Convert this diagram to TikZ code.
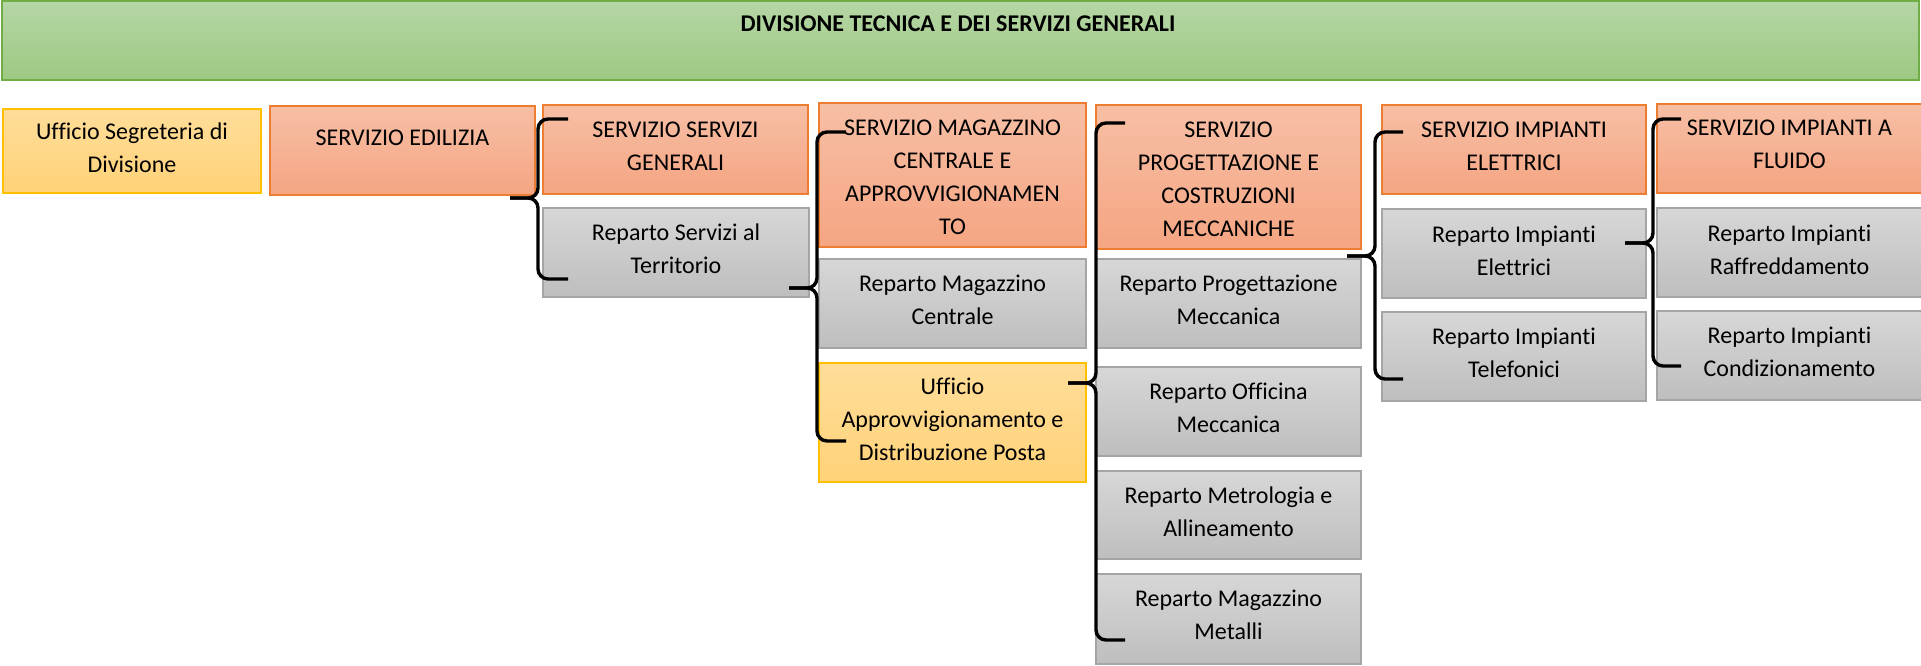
\documentclass[tikz,border=0pt]{standalone}
\usepackage{fontspec}
\setmainfont{Carlito}[Ligatures=NoCommon]
\definecolor{gTop}{RGB}{182,214,166}
\definecolor{gBot}{RGB}{157,201,130}
\definecolor{gLine}{RGB}{112,173,71}
\definecolor{oTop}{RGB}{247,191,165}
\definecolor{oBot}{RGB}{245,165,130}
\definecolor{oLine}{RGB}{237,125,49}
\definecolor{yTop}{RGB}{255,221,153}
\definecolor{yBot}{RGB}{255,210,120}
\definecolor{yLine}{RGB}{255,192,0}
\definecolor{kTop}{RGB}{215,215,215}
\definecolor{kBot}{RGB}{190,190,190}
\definecolor{kLine}{RGB}{165,165,165}
\tikzset{
  boxbase/.style={rectangle, inner sep=0pt, outer sep=0pt, line width=1.5pt},
  greenbox/.style={boxbase, draw=gLine, top color=gTop, bottom color=gBot},
  orangebox/.style={boxbase, draw=oLine, top color=oTop, bottom color=oBot},
  yellowbox/.style={boxbase, draw=yLine, top color=yTop, bottom color=yBot},
  graybox/.style={boxbase, draw=kLine, top color=kTop, bottom color=kBot},
  txt/.style={anchor=north, align=center, inner sep=0pt, text=black,
    font=\fontsize{24}{33}\selectfont},
  bracepath/.style={draw=black, line width=3.4pt, rounded corners=10pt}
}
\newcommand\bx[8]{%
  \node[#6, minimum width={(#4-#2)*1pt}, minimum height={(#5-#3)*1pt}] (#1) at ({(#2+#4)/2},{(#3+#5)/2}) {};
  \node[txt] (#1-t) at ([yshift=-#8pt]#1.north) {\rule{0pt}{24pt}#7};
}
% name, x, top, mid, bottom, left, right
\newcommand\brc[7]{%
  \coordinate (#1-a) at (#7,#3);
  \coordinate (#1-b) at (#2,#3);
  \coordinate (#1-c) at (#2,#4);
  \coordinate (#1-d) at (#6,#4);
  \coordinate (#1-e) at (#2,#5);
  \coordinate (#1-f) at (#7,#5);
  \draw[bracepath] (#1-a) -- (#1-b) -- (#1-c) -- (#1-d);
  \draw[bracepath] (#1-d) -- (#1-c) -- (#1-e) -- (#1-f);
}
\begin{document}
\begin{tikzpicture}[x=1pt, y=-1pt]
\useasboundingbox (0,0) rectangle (1921,666);
\clip (0,0) rectangle (1921,666);
% title
\node[greenbox, minimum width=1917pt, minimum height=79pt] (top) at (960.5,40.5) {};
\node[anchor=base, inner sep=0pt, font=\fontsize{24}{33}\selectfont\bfseries] (top-t) at (958,32) {DIVISIONE TECNICA E DEI SERVIZI GENERALI};
% boxes
\bx{seg}{3}{109}{261}{193}{yellowbox}{Ufficio Segreteria di\\Divisione}{6}
\bx{edil}{270}{106}{535}{195}{orangebox}{SERVIZIO EDILIZIA}{15}
\bx{ssg}{543}{105}{808}{194}{orangebox}{SERVIZIO SERVIZI\\GENERALI}{8}
\bx{rst}{543}{208}{809}{297}{graybox}{Reparto Servizi al\\Territorio}{8}
\bx{smag}{819}{103}{1086}{247}{orangebox}{SERVIZIO MAGAZZINO\\CENTRALE E\\APPROVVIGIONAMEN\\TO}{8}
\bx{rmc}{819}{259}{1086}{348}{graybox}{Reparto Magazzino\\Centrale}{8}
\bx{uad}{819}{363}{1086}{482}{yellowbox}{Ufficio\\Approvvigionamento e\\Distribuzione Posta}{7}
\bx{sprog}{1096}{105}{1361}{249}{orangebox}{SERVIZIO\\PROGETTAZIONE E\\COSTRUZIONI\\MECCANICHE}{8}
\bx{rpm}{1096}{259}{1361}{348}{graybox}{Reparto Progettazione\\Meccanica}{8}
\bx{rom}{1096}{367}{1361}{456}{graybox}{Reparto Officina\\Meccanica}{8}
\bx{rma}{1096}{471}{1361}{559}{graybox}{Reparto Metrologia e\\Allineamento}{8}
\bx{rmm}{1096}{574}{1361}{664}{graybox}{Reparto Magazzino\\Metalli}{8}
\bx{sie}{1382}{105}{1646}{194}{orangebox}{SERVIZIO IMPIANTI\\ELETTRICI}{8}
\bx{rie}{1382}{209}{1646}{298}{graybox}{Reparto Impianti\\Elettrici}{9}
\bx{rit}{1382}{312}{1646}{401}{graybox}{Reparto Impianti\\Telefonici}{8}
\bx{sif}{1657}{104}{1922}{193}{orangebox}{SERVIZIO IMPIANTI A\\FLUIDO}{7}
\bx{rir}{1657}{208}{1922}{297}{graybox}{Reparto Impianti\\Raffreddamento}{9}
\bx{ric}{1657}{311}{1922}{400}{graybox}{Reparto Impianti\\Condizionamento}{8}
% braces
\brc{b1}{538}{119}{198}{279}{510}{568}
\brc{b2}{817}{132}{288}{441}{789}{846}
\brc{b3}{1096}{123}{383}{640}{1068}{1125}
\brc{b4}{1375}{132}{256}{379}{1347}{1403}
\brc{b5}{1653}{119}{243}{366}{1625}{1681}
\end{tikzpicture}
\end{document}
